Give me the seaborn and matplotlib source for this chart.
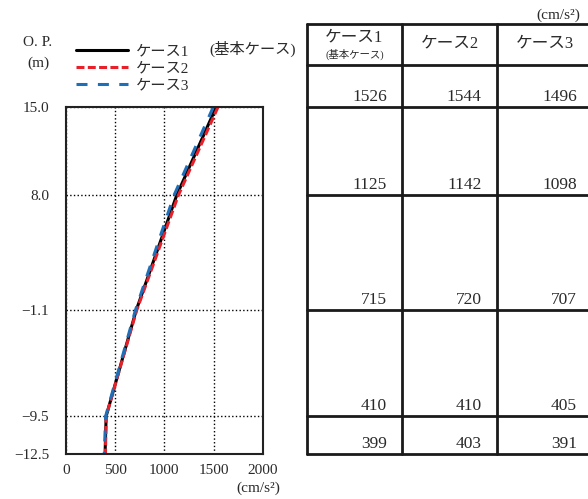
import pandas as pd
import seaborn as sns
import matplotlib.pyplot as plt
from matplotlib.lines import Line2D

# elevations (O.P. m) and peak accelerations (cm/s2) for each case
elevations = [15.0, 8.0, -1.1, -9.5, -12.5]
case1 = [1526, 1125, 715, 410, 399]
case2 = [1544, 1142, 720, 410, 403]
case3 = [1496, 1098, 707, 405, 391]

case_names = ['ケース1', 'ケース2', 'ケース3']
ytick_labels = ['15.0', '8.0', '−1.1', '−9.5', '−12.5']
xticks = [0, 500, 1000, 1500, 2000]

rows = []
for name, vals in zip(case_names, [case1, case2, case3]):
    for z, a in zip(elevations, vals):
        rows.append({'case': name, 'accel': a, 'elev': z})
df = pd.DataFrame(rows)

sns.set_style('white')
plt.rcParams['font.family'] = ['Liberation Serif', 'Noto Sans CJK JP']
plt.rcParams['text.color'] = '#2a2a2a'
plt.rcParams['xtick.color'] = '#2a2a2a'
plt.rcParams['ytick.color'] = '#2a2a2a'

W, H = 588, 499
fig = plt.figure(figsize=(W / 100, H / 100), dpi=100)


def fbox(x0, y0, x1, y1):
    # pixel box (top-left origin) -> figure fraction rect
    return [x0 / W, 1 - y1 / H, (x1 - x0) / W, (y1 - y0) / H]


ax = fig.add_axes(fbox(65.7, 107, 263, 454))

colors = {'ケース1': 'black', 'ケース2': '#e8202a', 'ケース3': '#1f6fb8'}
dashes = {'ケース1': '', 'ケース2': (2.6, 1.1), 'ケース3': (3.6, 3.4)}
sns.lineplot(data=df, x='accel', y='elev', hue='case', style='case',
             palette=colors, dashes=dashes, sort=False, estimator=None,
             orient='y', linewidth=2.2, legend=False, ax=ax)

ax.set_xlim(0, 2000)
ax.set_ylim(-12.5, 15.0)
ax.set_xticks(xticks)
ax.set_xticklabels([str(v) for v in xticks], fontsize=11)
ax.set_yticks(elevations)
ax.set_yticklabels(ytick_labels, fontsize=11)
ax.tick_params(axis='both', length=0)
ax.tick_params(axis='y', pad=12)
ax.tick_params(axis='x', pad=7)
ax.set_xlabel('')
ax.set_ylabel('')
ax.grid(True, linestyle=':', color='black', linewidth=1)
for sp in ax.spines.values():
    sp.set_color('#222222')
    sp.set_linewidth(1.5)

fig.text(258 / W, 1 - 488 / H, '(cm/s²)', fontsize=11, ha='center', va='center')
fig.text(38 / W, 1 - 43 / H, 'O. P.', fontsize=11, ha='center', va='center')
fig.text(38 / W, 1 - 63 / H, '(m)', fontsize=11, ha='center', va='center')

# legend
handles = [Line2D([], [], color=l.get_color(), linestyle=l.get_linestyle(),
                  linewidth=2.2) for l in ax.get_lines()[:3]]
handles[1].set_dashes((2.6, 1.1))
handles[2].set_dashes((3.6, 3.4))
fig.legend(handles, case_names, loc='upper left',
           bbox_to_anchor=(70 / W, 1 - 39 / H), frameon=False,
           fontsize=11, handlelength=3.4, handletextpad=0.5,
           labelspacing=0.2, borderaxespad=0)
fig.text(209 / W, 1 - 49 / H, '(基本ケース)', fontsize=11, ha='left', va='center')

# table on the right, same vertical scale as the plot
px_per_m = (454 - 107) / 27.5
top_elev = -12.5 + (454 - 24) / px_per_m
head_elev = -12.5 + (454 - 65) / px_per_m
tax = fig.add_axes(fbox(307, 24, 592, 454))
tax.set_xlim(0, 3)
tax.set_ylim(-12.5, top_elev)
tax.axis('off')

for y in [top_elev, head_elev] + elevations:
    tax.plot([0, 3], [y, y], color='#1a1a1a', lw=2, clip_on=False)
for x in [0, 1, 2, 3]:
    tax.plot([x, x], [-12.5, top_elev], color='#1a1a1a', lw=2, clip_on=False)


def px2elev(py):
    return -12.5 + (454 - py) / px_per_m


tax.text(0.5, px2elev(37), 'ケース1', fontsize=12, ha='center', va='center')
tax.text(0.5, px2elev(54), '(基本ケース)', fontsize=7.5, ha='center', va='center')
tax.text(1.5, px2elev(43), 'ケース2', fontsize=12, ha='center', va='center')
tax.text(2.5, px2elev(43), 'ケース3', fontsize=12, ha='center', va='center')

for col, vals in enumerate([case1, case2, case3]):
    for z, v in zip(elevations, vals):
        tax.text(col + 1 - 0.16, z + 10 / px_per_m, str(v), fontsize=12.5,
                 ha='right', va='center')

fig.text(580 / W, 1 - 15 / H, '(cm/s²)', fontsize=11, ha='right', va='center')

fig.savefig('out.png', dpi=100)
